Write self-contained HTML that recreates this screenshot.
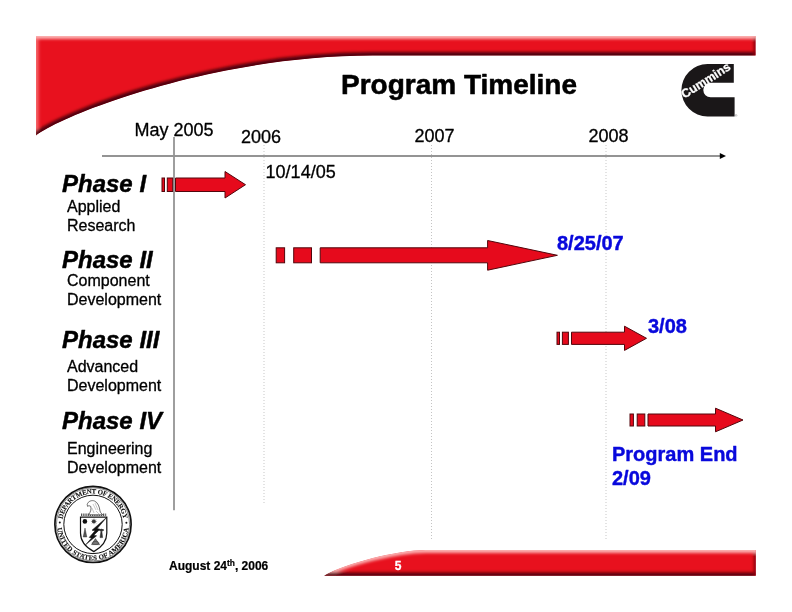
<!DOCTYPE html>
<html lang="en">
<head>
<meta charset="utf-8">
<title>Program Timeline</title>
<style>
html,body{margin:0;padding:0;background:#fff;}
body{width:792px;height:612px;overflow:hidden;position:relative;font-family:"Liberation Sans",Arial,sans-serif;}
svg{position:absolute;left:0;top:0;display:block;}
text{font-family:"Liberation Sans",Arial,sans-serif;}
.t18{font-size:18px;fill:#000;stroke:#000;stroke-width:0.3px;}
.ph{font-size:24px;font-weight:bold;font-style:italic;fill:#000;stroke:#000;stroke-width:0.45px;}
.sub{font-size:16px;fill:#000;stroke:#000;stroke-width:0.3px;}
.blue{font-size:20px;font-weight:bold;fill:#0808dc;stroke:#0808dc;stroke-width:0.4px;}
.arrow{fill:#e60a1c;stroke:#52060c;stroke-width:1;stroke-linejoin:miter;}
</style>
</head>
<body>
<svg width="792" height="612" viewBox="0 0 792 612">
<defs>
<clipPath id="cTop"><path d="M36 36 H755.6 V55.6 H372.6 C216.2 55.6 66.9 112.6 36 135.4 Z"/></clipPath>
<clipPath id="cBot"><path d="M324 575.7 C346.3 563 397.6 550.1 425.4 550.1 H755.8 V575.7 Z"/></clipPath>
<filter id="blur1" x="-5%" y="-50%" width="110%" height="200%" filterUnits="objectBoundingBox"><feGaussianBlur stdDeviation="1.5"/></filter>
</defs>

<!-- top banner -->
<g id="topbanner" clip-path="url(#cTop)">
<path d="M36 36 H755.6 V55.6 H372.6 C216.2 55.6 66.9 112.6 36 135.4 Z" fill="#e8111e"/>
<g filter="url(#blur1)">
<path d="M30 36 H760" fill="none" stroke="#fbb0b0" stroke-width="6"/>
<path d="M36 38 V140" fill="none" stroke="#f6686c" stroke-width="5"/>
<path d="M36 136.4 C66.9 113.6 216.2 56.6 372.6 56.6 H760" fill="none" stroke="#50000a" stroke-width="9"/>
<path d="M755.6 38 V60" fill="none" stroke="#8a0010" stroke-width="4"/>
</g>
</g>

<!-- footer banner -->
<g id="footbanner" clip-path="url(#cBot)">
<path d="M324 575.7 C346.3 563 397.6 550.1 425.4 550.1 H755.8 V575.7 Z" fill="#e8111e"/>
<g filter="url(#blur1)">
<path d="M323.6 575.2 C346 562.6 397.6 549.9 425.4 549.9 H760" fill="none" stroke="#fbb0b0" stroke-width="6"/>
<path d="M320 576.7 H760" fill="none" stroke="#58000a" stroke-width="8.6"/>
<path d="M755.8 553 V580" fill="none" stroke="#8a0010" stroke-width="4"/>
</g>
</g>

<!-- grid lines -->
<line x1="264" y1="145" x2="264" y2="503.5" stroke="#e3e3e3" stroke-width="2" stroke-dasharray="1 2" fill="none"/>
<line x1="431.5" y1="145" x2="431.5" y2="539.5" stroke="#c4c4c4" stroke-width="1" stroke-dasharray="1 2" fill="none"/>
<line x1="606" y1="145" x2="606" y2="539.5" stroke="#e3e3e3" stroke-width="2" stroke-dasharray="1 2" fill="none"/>
<line x1="102" y1="156" x2="721" y2="156" stroke="#949494" stroke-width="1.8"/>
<path d="M719.8 152.9 L726 156 L719.8 159.1 Z" fill="#000"/>
<line x1="174" y1="137" x2="174" y2="510.3" stroke="#949494" stroke-width="1.8"/>

<!-- arrows -->
<g class="arrow">
<rect x="162" y="178" width="2.5" height="13.5"/>
<rect x="167.3" y="178" width="5.4" height="13.5"/>
<path d="M175.5 178 H225 V171.5 L245.5 184.7 L225 198 V191.5 H175.5 Z"/>

<rect x="276.2" y="247.8" width="8.4" height="15"/>
<rect x="293.7" y="247.8" width="17.8" height="15"/>
<path d="M320.2 247.8 H487.6 V240.5 L557.4 255.3 L487.6 270.2 V262.8 H320.2 Z"/>

<rect x="557" y="332.2" width="2.5" height="12.2"/>
<rect x="562.4" y="332.2" width="6" height="12.2"/>
<path d="M571.5 332.2 H624.5 V326.2 L646.5 338.3 L624.5 350.4 V344.4 H571.5 Z"/>

<rect x="630" y="414" width="3.4" height="12"/>
<rect x="637.2" y="414" width="7.6" height="12"/>
<path d="M648 414 H715.5 V408.2 L743 420 L715.5 431.8 V426 H648 Z"/>
</g>


<!-- Cummins logo -->
<g id="cummins">
<path d="M733.8 64 H707.5 A26.1 26.2 0 0 0 707.5 116.4 H734.6 V97.3 H710.6 A7.3 7.3 0 0 1 710.6 82.7 H733.8 Z" fill="#1a1718"/>
<text transform="translate(684.6 98.8) rotate(-32.5)" font-size="12.3" font-weight="bold" fill="#fff" stroke="#fff" stroke-width="0.3" textLength="55.5" lengthAdjust="spacingAndGlyphs">Cummins</text>
<text x="735" y="117" font-size="3.2" fill="#555">®</text>
</g>

<!-- DOE seal -->
<g id="doe" font-family="'Liberation Serif',serif">
<circle cx="93" cy="524.4" r="38.1" fill="#fff" stroke="#111" stroke-width="1.7"/>
<circle cx="93" cy="524.4" r="36.6" fill="none" stroke="#111" stroke-width="0.5"/>
<circle cx="93" cy="524.4" r="29.2" fill="none" stroke="#111" stroke-width="1"/>
<path id="arcTop" d="M62.2 524.4 A30.8 30.8 0 0 1 123.8 524.4" fill="none"/>
<path id="arcBot" d="M57.2 524.4 A35.8 35.8 0 0 0 128.8 524.4" fill="none"/>
<text font-size="6.9" font-weight="bold" fill="#111" stroke="#111" stroke-width="0.12" style="font-family:'Liberation Serif',serif"><textPath href="#arcTop" startOffset="50%" text-anchor="middle" textLength="86" lengthAdjust="spacing">DEPARTMENT OF ENERGY</textPath></text>
<text font-size="6.9" font-weight="bold" fill="#111" stroke="#111" stroke-width="0.12" style="font-family:'Liberation Serif',serif"><textPath href="#arcBot" startOffset="50%" text-anchor="middle" textLength="105" lengthAdjust="spacing">UNITED STATES OF AMERICA</textPath></text>
<circle cx="59.8" cy="522.6" r="1" fill="#111"/>
<circle cx="126.4" cy="522.8" r="1" fill="#111"/>
<!-- shield -->
<path d="M80.5 517.2 H106.8 V533 C106.8 543 100 548.2 93.8 551.6 C87.4 548.2 80.5 543 80.5 533 Z" fill="#fff" stroke="#111" stroke-width="1.2"/>
<path d="M81 514.8 H106.2" stroke="#555" stroke-width="2.4" stroke-dasharray="1.3 0.9" fill="none"/>
<!-- eagle -->
<path d="M87.2 504.5 C88 501 92 500 94.5 501 C98 502.5 99.5 507 100 511 C100.5 513 102 514 102.8 514.8 H88.5 C90.5 512 91.5 509.5 90.8 506.5 C89.6 505.5 88.2 505.6 87.6 506.4 Z" fill="#fff" stroke="#333" stroke-width="0.7"/>
<path d="M93 504 L96 510 M95 503 L98 510 M92 508 L94 513 M96 511 L99 514" stroke="#777" stroke-width="0.4" fill="none"/>
<!-- bolt -->
<path d="M106.6 517.4 L92 530.2 L95 530.8 L89.2 537.4 L91.6 538 L85.8 544.6 L96.6 535.8 L93.8 535.2 L100 529.2 L97.2 528.6 Z" fill="#111" stroke="#111" stroke-width="0.5"/>
<!-- symbols -->
<circle cx="84.9" cy="521.4" r="2.3" fill="#111"/>
<circle cx="93.8" cy="521.4" r="1.9" fill="#444"/>
<path d="M94 518.6 V524.2 M91.2 521.4 H96.8 M92 519.4 L96 523.4 M96 519.4 L92 523.4" stroke="#333" stroke-width="0.5"/>
<path d="M85 528 L83.2 537 H86.8 Z" fill="#555" stroke="#222" stroke-width="0.4"/>
<path d="M101 531 L100 537.6 H102.6 L101.8 531 M98.8 530 Q101.4 528.2 104 530 L101.4 531.4 Z" fill="#333" stroke="#222" stroke-width="0.5"/>
<path d="M95.4 538.6 L91.6 544.6 H99.6 Z" fill="#777" stroke="#222" stroke-width="0.5"/>
<ellipse cx="95.5" cy="543" rx="3.6" ry="1.5" fill="none" stroke="#222" stroke-width="0.4"/>
</g>

<!-- text -->
<g stroke-linejoin="round">
<text x="341" y="93.8" font-size="28" font-weight="bold" fill="#000" stroke="#000" stroke-width="0.55">Program Timeline</text>
<text class="t18" x="134.4" y="135.5">May 2005</text>
<text class="t18" x="241" y="142.8">2006</text>
<text class="t18" x="414.5" y="141.8">2007</text>
<text class="t18" x="588.5" y="141.8">2008</text>
<text class="t18" x="265.6" y="177.8">10/14/05</text>

<text class="ph" x="62" y="191.5">Phase I</text>
<text class="sub" x="67" y="211.9">Applied</text>
<text class="sub" x="67" y="230.7">Research</text>

<text class="ph" x="62" y="267.5">Phase II</text>
<text class="sub" x="67" y="285.9">Component</text>
<text class="sub" x="67" y="304.7">Development</text>

<text class="ph" x="62" y="347.5">Phase III</text>
<text class="sub" x="67" y="371.6">Advanced</text>
<text class="sub" x="67" y="390.7">Development</text>

<text class="ph" x="62" y="428.7">Phase IV</text>
<text class="sub" x="67" y="454.2">Engineering</text>
<text class="sub" x="67" y="473.2">Development</text>

<text class="blue" x="557" y="249.8">8/25/07</text>
<text class="blue" x="648" y="332.8">3/08</text>
<text class="blue" x="612" y="460.9">Program End</text>
<text class="blue" x="612" y="484.7">2/09</text>

<text x="169" y="570.3" font-size="12" font-weight="bold" fill="#000" stroke="#000" stroke-width="0.2">August 24<tspan font-size="8.4" dy="-4.6">th</tspan><tspan dy="4.6">, 2006</tspan></text>
<text x="394.7" y="570.2" font-size="12" font-weight="bold" fill="#fff" stroke="#fff" stroke-width="0.3">5</text>
</g>
</svg>
</body>
</html>
